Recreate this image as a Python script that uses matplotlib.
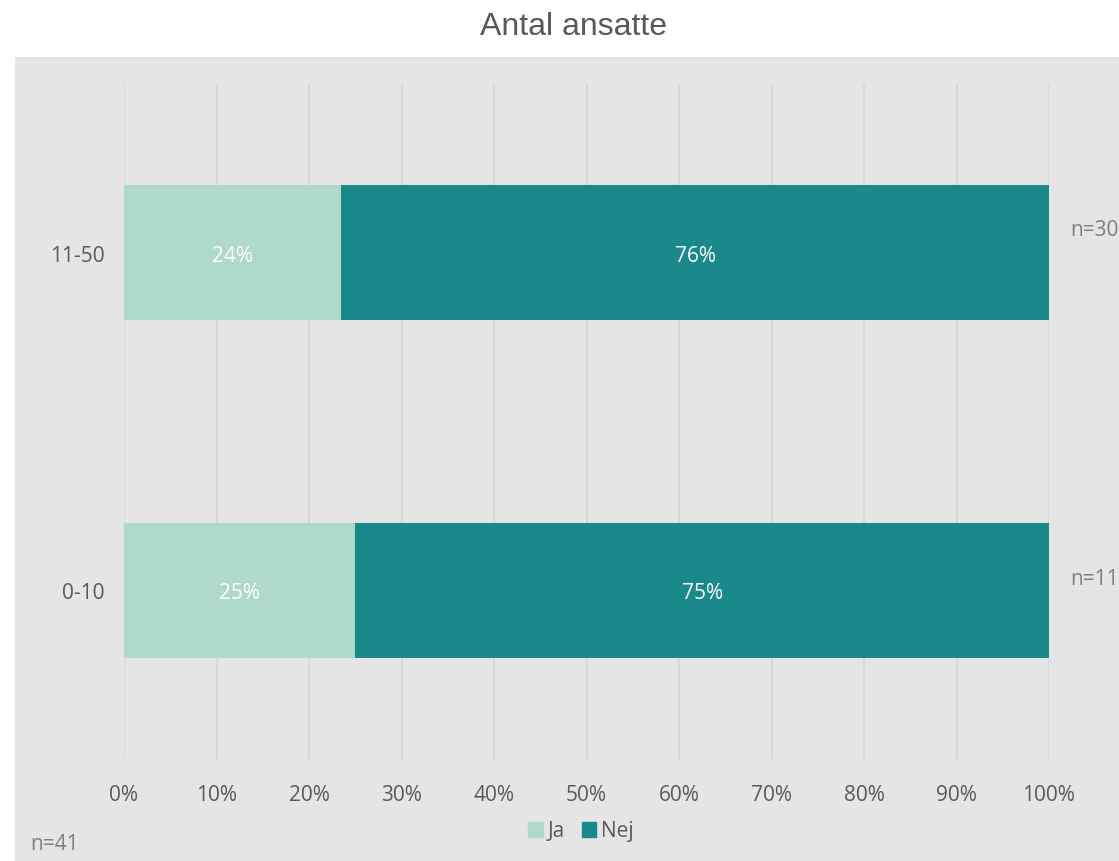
import matplotlib.pyplot as plt
from matplotlib.patches import Rectangle

categories = ["0-10", "11-50"]
ja = [25.0, 23.5]
nej = [75.0, 76.5]
ja_labels = ["25%", "24%"]
nej_labels = ["75%", "76%"]
n_labels = ["n=11", "n=30"]
n_offsets = [0.035, 0.068]
ticks = list(range(0, 101, 10))
tick_labels = [f"{t}%" for t in ticks]

light = "#AFDACA"
dark = "#1A898B"
bg = "#E5E5E5"
txt = "#595959"
fs = 15

plt.rcParams["font.family"] = ["Open Sans", "DejaVu Sans"]

fig = plt.figure(figsize=(11.19, 8.62), dpi=100)
fig.patch.set_facecolor("white")
fig.patches.append(Rectangle((15 / 1119, 0), 1 - 15 / 1119, (862 - 58) / 862,
                             transform=fig.transFigure, facecolor=bg,
                             edgecolor="none", zorder=-5))

ax = fig.add_axes([124 / 1119, 102 / 862, 925 / 1119, 675 / 862])
ax.set_facecolor("none")

y = list(range(len(categories)))
ax.barh(y, ja, height=0.4, color=light, zorder=3)
ax.barh(y, nej, left=ja, height=0.4, color=dark, zorder=3)

for i in y:
    ax.text(ja[i] / 2, i - 0.008, ja_labels[i], color="white", fontsize=fs,
            ha="center", va="center", zorder=4)
    ax.text(ja[i] + nej[i] / 2, i - 0.008, nej_labels[i], color="white", fontsize=fs,
            ha="center", va="center", zorder=4)
    ax.text(102.3, i + n_offsets[i], n_labels[i], color="#7F7F7F", fontsize=fs,
            ha="left", va="center", clip_on=False)

ax.set_xlim(0, 100)
ax.set_ylim(-0.5, 1.5)
ax.set_xticks(ticks)
ax.set_xticklabels(tick_labels)
ax.set_yticks(y)
ax.set_yticklabels(categories)
ax.tick_params(axis="both", length=0, labelsize=fs, labelcolor=txt)
ax.tick_params(axis="x", pad=18)
ax.tick_params(axis="y", pad=14)
ax.grid(axis="x", color="#D6D6D6", linewidth=1.3, zorder=0)
ax.set_axisbelow(True)
for s in ax.spines.values():
    s.set_visible(False)

fig.text(573 / 1119, 1 - 27 / 862, "Antal ansatte", fontsize=23, color=txt,
         ha="center", va="center", family=["Liberation Sans", "DejaVu Sans"])

handles = [Rectangle((0, 0), 1, 1, color=light), Rectangle((0, 0), 1, 1, color=dark)]
fig.legend(handles, ["Ja", "Nej"], loc="center", bbox_to_anchor=(581 / 1119, 1 - 832 / 862),
           ncol=2, frameon=False, fontsize=fs, labelcolor=txt, handlelength=0.7,
           handleheight=0.7, handletextpad=0.25, columnspacing=0.8)

fig.text(30 / 1119, 1 - 845 / 862, "n=41", fontsize=fs, color="#7F7F7F",
         ha="left", va="center")

fig.savefig("out.png", dpi=100)
